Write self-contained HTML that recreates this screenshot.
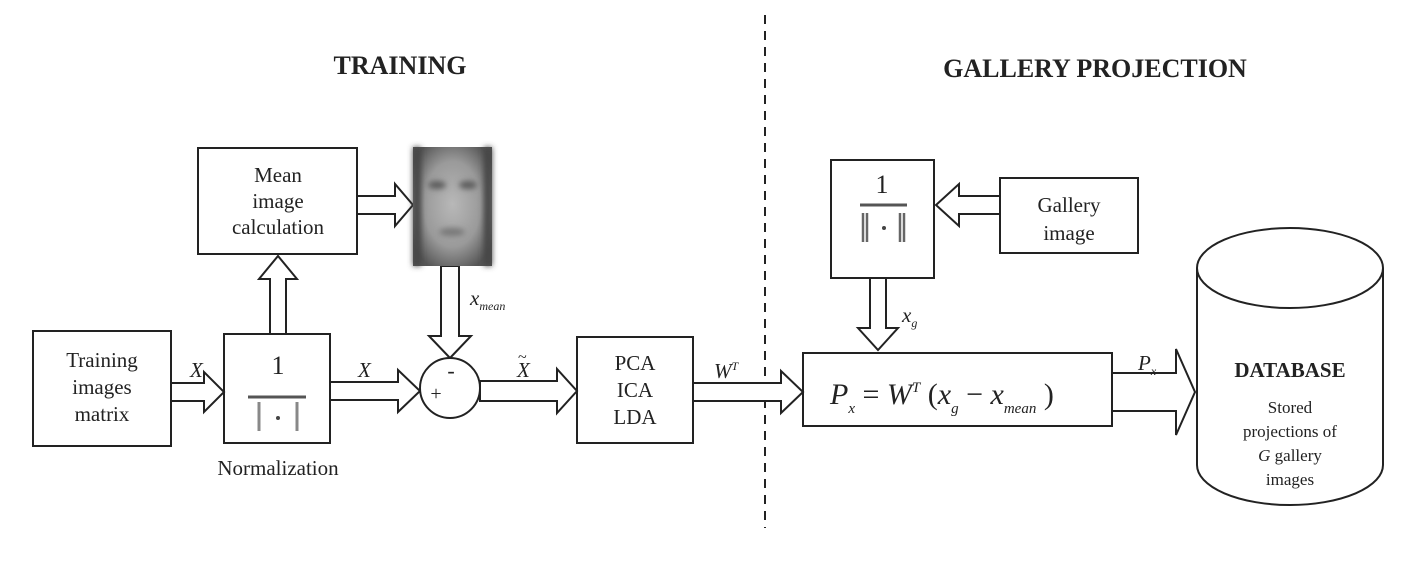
<!DOCTYPE html>
<html><head><meta charset="utf-8"><style>
body{margin:0;background:#fff}
svg{display:block}
text{font-family:"Liberation Serif",serif;fill:#222}
</style></head><body>
<svg width="1414" height="576" viewBox="0 0 1414 576" xmlns="http://www.w3.org/2000/svg">
<defs>
<radialGradient id="fg" cx="50%" cy="48%" r="60%">
<stop offset="0" stop-color="#b8b8b8"/><stop offset="0.6" stop-color="#9a9a9a"/><stop offset="1" stop-color="#555"/>
</radialGradient>
<filter id="bl"><feGaussianBlur stdDeviation="3"/></filter>
</defs>
<g stroke="#222" stroke-width="2" fill="#fff">
<line x1="765" y1="15" x2="765" y2="528" stroke-dasharray="9,7" stroke-width="2"/>
<rect x="33" y="331" width="138" height="115"/>
<rect x="224" y="334" width="106" height="109"/>
<rect x="198" y="148" width="159" height="106"/>
<rect x="577" y="337" width="116" height="106"/>
<rect x="803" y="353" width="309" height="73"/>
<rect x="831" y="160" width="103" height="118"/>
<rect x="1000" y="178" width="138" height="75"/>
<polygon points="171,383 204,383 204,372 224,392 204,412 204,401 171,401"/>
<polygon points="330,382 398,382 398,370 420,391 398,412 398,400 330,400"/>
<polygon points="480,381 557,381 557,369 577,391 557,413 557,401 480,401"/>
<polygon points="693,383 781,383 781,371 803,392 781,413 781,401 693,401"/>
<polygon points="357,196 395,196 395,184 413,205 395,226 395,214 357,214"/>
<polygon points="270,334 270,279 259,279 278,256 297,279 286,279 286,334"/>
<polygon points="441,266 441,336 429,336 450,358 471,336 459,336 459,266"/>
<polygon points="1000,196 959,196 959,184 936,205 959,226 959,214 1000,214"/>
<polygon points="870,278 870,328 858,328 878,350 898,328 886,328 886,278"/>
<polygon points="1112,373 1176,373 1176,349 1195,392 1176,435 1176,411 1112,411"/>
<circle cx="450" cy="388" r="30"/>
<path d="M1197,268 L1197,465 A93,40 0 0 0 1383,465 L1383,268"/>
<ellipse cx="1290" cy="268" rx="93" ry="40"/>
</g>
<rect x="413" y="147" width="79" height="119" fill="url(#fg)"/>
<g filter="url(#bl)" fill="#5a5a5a">
<ellipse cx="437" cy="185" rx="9" ry="4"/><ellipse cx="468" cy="185" rx="9" ry="4"/>
<ellipse cx="452" cy="232" rx="13" ry="4" fill="#777"/>
<rect x="413" y="147" width="8" height="119" fill="#444"/><rect x="484" y="147" width="8" height="119" fill="#444"/>
</g>
<line x1="248" y1="397" x2="306" y2="397" stroke="#555" stroke-width="3"/>
<line x1="259" y1="402" x2="259" y2="431" stroke="#888" stroke-width="3"/><line x1="297" y1="402" x2="297" y2="431" stroke="#888" stroke-width="3"/>
<circle cx="278" cy="418" r="2" fill="#444"/>
<line x1="860" y1="205" x2="907" y2="205" stroke="#555" stroke-width="3"/>
<line x1="863" y1="213" x2="863" y2="242" stroke="#666" stroke-width="2.5"/><line x1="867" y1="213" x2="867" y2="242" stroke="#666" stroke-width="2.5"/>
<line x1="900" y1="213" x2="900" y2="242" stroke="#666" stroke-width="2.5"/><line x1="904" y1="213" x2="904" y2="242" stroke="#666" stroke-width="2.5"/>
<circle cx="884" cy="228" r="2" fill="#444"/>
<g font-size="26" font-weight="bold" text-anchor="middle">
<text x="400" y="74">TRAINING</text>
<text x="1095" y="77">GALLERY PROJECTION</text>
</g>
<g font-size="21" text-anchor="middle">
<text x="102" y="367">Training</text><text x="102" y="394">images</text><text x="102" y="421">matrix</text>
<text x="278" y="182">Mean</text><text x="278" y="208">image</text><text x="278" y="234">calculation</text>
<text x="278" y="475">Normalization</text>
<text x="635" y="370">PCA</text><text x="635" y="397">ICA</text><text x="635" y="424">LDA</text>
<text x="1069" y="212">Gallery</text><text x="1069" y="240">image</text>
<text x="1290" y="377" font-weight="bold" font-size="21">DATABASE</text>
<text x="1290" y="413" font-size="17">Stored</text><text x="1290" y="437" font-size="17">projections of</text>
<text x="1290" y="461" font-size="17"><tspan font-style="italic">G</tspan> gallery</text><text x="1290" y="485" font-size="17">images</text>
<text x="278" y="374" font-size="26">1</text>
<text x="882" y="193" font-size="26">1</text>
<text x="451" y="378" font-size="22">-</text><text x="436" y="400" font-size="20">+</text>
</g>
<g font-size="21" font-style="italic">
<text x="190" y="377">X</text>
<text x="358" y="377">X</text>
<text x="517" y="377">X</text><text x="518" y="362" font-size="16" font-style="normal">~</text>
<text x="714" y="378">W<tspan font-size="12" dy="-8">T</tspan></text>
<text x="470" y="305">x<tspan font-size="12" dy="5">mean</tspan></text>
<text x="902" y="322">x<tspan font-size="12" dy="5">g</tspan></text>
<text x="1138" y="370">P<tspan font-size="12" dy="5">x</tspan></text>
<text x="830" y="404" font-size="30">P<tspan font-size="15" dy="9">x</tspan><tspan dy="-9" font-style="normal"> = </tspan>W<tspan font-size="15" dy="-12">T</tspan><tspan dy="12" font-style="normal"> (</tspan>x<tspan font-size="15" dy="9">g</tspan><tspan dy="-9" font-style="normal"> − </tspan>x<tspan font-size="15" dy="9">mean</tspan><tspan dy="-9" font-style="normal"> )</tspan></text>
</g>
</svg>
</body></html>
